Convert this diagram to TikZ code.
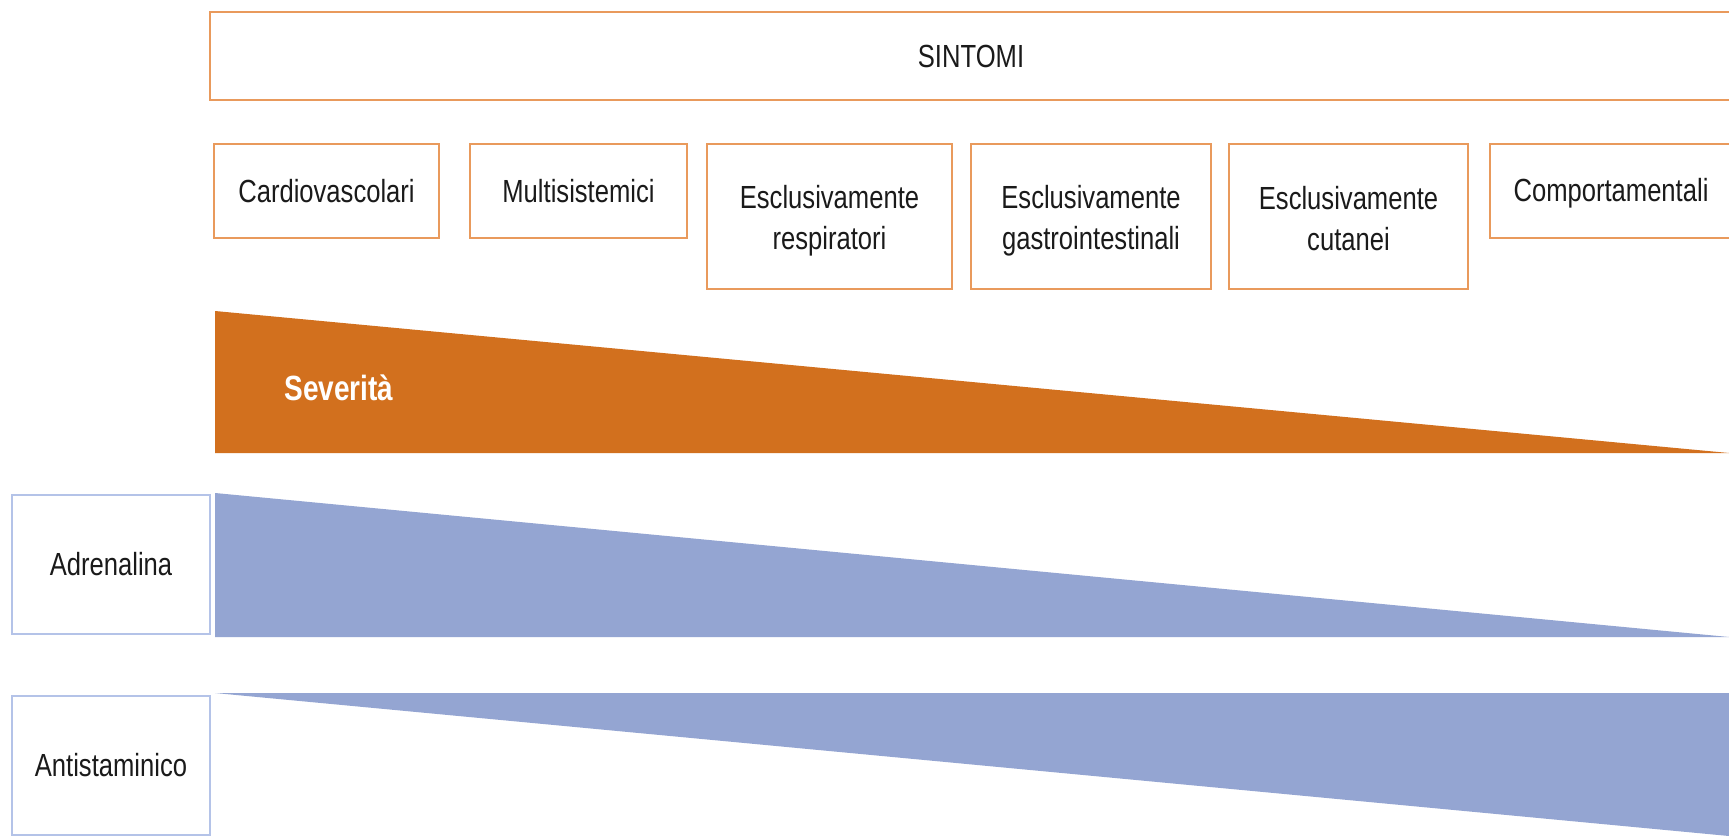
\documentclass[tikz,border=0pt]{standalone}
\usepackage{fontspec}
\setmainfont{Liberation Sans}[FakeStretch=0.8]
\definecolor{boxorange}{HTML}{E99A5C}
\definecolor{sevorange}{HTML}{D2701E}
\definecolor{medblue}{HTML}{94A5D2}
\definecolor{boxblue}{HTML}{B4C3E8}
\definecolor{txt}{HTML}{1A1A1A}
\tikzset{
  obox/.style={draw=boxorange, line width=2pt, fill=white, anchor=north west,
    align=center, text=txt, inner sep=0pt, font=\fontsize{32}{41}\selectfont},
  bbox/.style={draw=boxblue, line width=2pt, fill=white, anchor=north west,
    align=center, text=txt, inner sep=0pt, font=\fontsize{32}{41}\selectfont},
  lbl/.style={align=center, text=txt, inner sep=0pt, font=\fontsize{32}{41}\selectfont},
}
\begin{document}
\begin{tikzpicture}[x=1pt,y=-1pt]
\useasboundingbox[fill=white] (0,0) rectangle (1729,836);
% header
\node[obox, minimum width=1522pt, minimum height=88pt] (sint) at (209,11) {SINTOMI};
% symptom boxes
\node[obox, minimum width=225pt, minimum height=94pt] (cardio) at (213,143) {Cardiovascolari};
\node[obox, minimum width=217pt, minimum height=94pt] (multi) at (469,143) {Multisistemici};
\node[obox, minimum width=245pt, minimum height=145pt] (resp) at (706,143) {};
\node[lbl] (resptxt) at ([yshift=-4pt]resp.center) {Esclusivamente\\respiratori};
\node[obox, minimum width=240pt, minimum height=145pt] (gastro) at (970,143) {};
\node[lbl] (gastrotxt) at ([yshift=-4pt]gastro.center) {Esclusivamente\\gastrointestinali};
\node[obox, minimum width=239pt, minimum height=145pt] (cut) at (1228,143) {};
\node[lbl, text depth=0pt] (cuttxt) at ([yshift=-2pt]cut.center) {Esclusivamente\\cutanei};
\node[obox, minimum width=242pt, minimum height=94pt] (comp) at (1489,143) {};
\node[lbl] (comptxt) at ([yshift=-2pt]comp.center) {Comportamentali};
% severity wedge
\fill[sevorange] (215,311) -- (1729,453) -- (215,453) -- cycle;
\node[text=white, font=\fontsize{35}{40}\selectfont\bfseries] (sev) at (339,388) {Severità};
% adrenalina
\node[bbox, minimum width=198pt, minimum height=139pt] (adr) at (11,494) {Adrenalina};
\fill[medblue] (215,493) -- (1729,637) -- (215,637) -- cycle;
% antistaminico
\node[bbox, minimum width=198pt, minimum height=139pt] (anti) at (11,695) {Antistaminico};
\fill[medblue] (215,693) -- (1729,693) -- (1729,836) -- cycle;
\end{tikzpicture}
\end{document}
